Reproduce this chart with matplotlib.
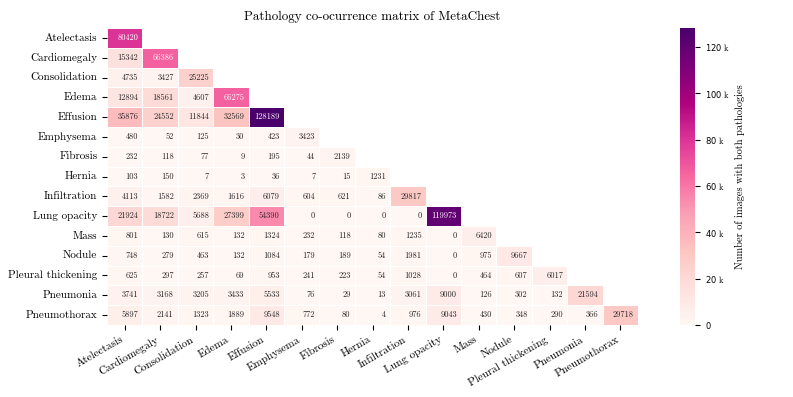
import numpy as np
import matplotlib
matplotlib.use("Agg")
import matplotlib.pyplot as plt
import seaborn as sns
from matplotlib.ticker import EngFormatter

# Pathology labels
pathologies = ["Atelectasis", "Cardiomegaly", "Consolidation", "Edema", "Effusion",
               "Emphysema", "Fibrosis", "Hernia", "Infiltration", "Lung opacity",
               "Mass", "Nodule", "Pleural thickening", "Pneumonia", "Pneumothorax"]

# Lower triangle of the co-occurrence matrix (row by row)
atelectasis = [80420]
cardiomegaly = [15342, 66386]
consolidation = [4735, 3427, 25225]
edema = [12894, 18561, 4607, 66275]
effusion = [35876, 24552, 11844, 32569, 128189]
emphysema = [480, 52, 125, 30, 423, 3423]
fibrosis = [232, 118, 77, 9, 195, 44, 2139]
hernia = [103, 150, 7, 3, 36, 7, 15, 1231]
infiltration = [4113, 1582, 2369, 1616, 6079, 604, 621, 86, 29817]
lung_opacity = [21924, 18722, 5688, 27399, 54390, 0, 0, 0, 0, 119973]
mass = [801, 130, 615, 132, 1324, 232, 118, 80, 1235, 0, 6420]
nodule = [748, 279, 463, 132, 1084, 179, 189, 54, 1981, 0, 975, 9667]
pleural = [625, 297, 257, 69, 953, 241, 223, 54, 1028, 0, 464, 607, 6017]
pneumonia = [3741, 3168, 3205, 3433, 5533, 76, 29, 13, 3061, 9000, 126, 302, 132, 21594]
pneumothorax = [5897, 2141, 1323, 1889, 9548, 772, 80, 4, 976, 9043, 430, 348, 290, 366, 29718]

rows = [atelectasis, cardiomegaly, consolidation, edema, effusion, emphysema, fibrosis,
        hernia, infiltration, lung_opacity, mass, nodule, pleural, pneumonia, pneumothorax]

n = len(pathologies)
matrix = np.zeros((n, n), dtype=int)
for i, r in enumerate(rows):
    matrix[i, :len(r)] = r
mask = np.triu(np.ones((n, n), dtype=bool), k=1)

plt.rcParams['font.family'] = 'serif'
plt.rcParams['font.serif'] = ['cmr10']
plt.rcParams['axes.formatter.use_mathtext'] = True

fig = plt.figure(figsize=(7.93, 3.97), dpi=100)
ax = fig.add_axes([0.135, 0.1814, 0.6696, 0.748])
cax = fig.add_axes([0.8575, 0.1814, 0.0189, 0.748])

sns.heatmap(matrix, mask=mask, cmap="RdPu", vmin=0, annot=True, fmt="d",
            annot_kws={"fontsize": 6}, linewidths=0.7, linecolor="white",
            xticklabels=pathologies, yticklabels=pathologies,
            ax=ax, cbar_ax=cax)

# numbers are right aligned inside their cells
for t in ax.texts:
    x, y = t.get_position()
    t.set_position((x + 0.38, y))
    t.set_ha("right")

ax.set_title("Pathology co-ocurrence matrix of MetaChest", fontsize=9.4)
ax.set_xticklabels(pathologies, rotation=30, ha="right", fontsize=8)
ax.set_yticklabels(pathologies, rotation=0, fontsize=8)

cbar = ax.collections[0].colorbar
cbar.ax.yaxis.set_major_formatter(EngFormatter())
cbar.ax.tick_params(labelsize=6)
cbar.set_label("Number of images with both pathologies", fontsize=7.5)
cbar.outline.set_visible(False)

fig.savefig("out.png", dpi=100)
